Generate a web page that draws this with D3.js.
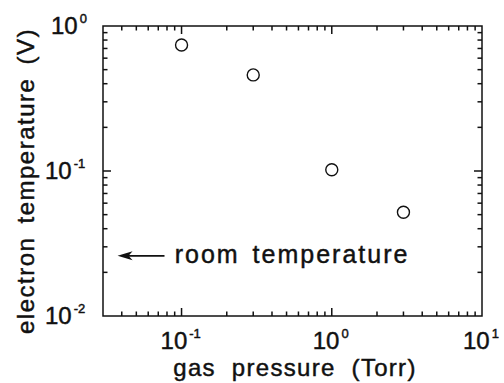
<!DOCTYPE html>
<html><head><meta charset="utf-8">
<script src="https://cdn.jsdelivr.net/npm/d3@7"></script>
<style>
body{margin:0;background:#fff;}
svg text{font-family:"Liberation Sans",Arial,Helvetica,sans-serif;fill:#111;stroke:#111;stroke-width:0.45px;}
</style></head>
<body><svg id="c" width="504" height="383"></svg>
<script>
// data
const pressure = [0.1, 0.3, 1.0, 3.0];          // Torr
const electronTemp = [0.74, 0.46, 0.102, 0.052]; // V
const xTickExps = [-1, 0, 1];
const yTickExps = [0, -1, -2];
const roomTemp = 0.026;
const arrowFrom = 0.077, arrowTo = 0.0375;
const labelX = 0.09;
const xTitle = "gas pressure (Torr)";
const yTitle = "electron temperature (V)";
const annotation = "room temperature";

const svg = d3.select("#c");
const L = 103, R = 482, T = 26, B = 316;
const x = d3.scaleLog().domain([0.03, 10]).range([L, R]);
const y = d3.scaleLog().domain([0.01, 1]).range([B, T]);

function minorTicks(dom){
  const out=[];
  for(let e=-3;e<=2;e++){for(let k=1;k<10;k++){const v=k*Math.pow(10,e);
    if(v>=dom[0]*0.999 && v<=dom[1]*1.001) out.push(v);}}
  return out;
}
const xAll = minorTicks(x.domain()), yAll = minorTicks(y.domain());
const isMajor = v => Math.abs(Math.log10(v)-Math.round(Math.log10(v)))<1e-6;

const g = svg.append("g").attr("stroke","#111").attr("stroke-width",1.5).attr("fill","none");
g.append("rect").attr("x",L).attr("y",T).attr("width",R-L).attr("height",B-T);

const maj=8, mn=4.5;
xAll.forEach(v=>{
  const len = isMajor(v)?maj:mn, px=x(v);
  if(px<=L+0.5||px>=R-0.5) return;
  g.append("line").attr("x1",px).attr("x2",px).attr("y1",B).attr("y2",B-len);
  g.append("line").attr("x1",px).attr("x2",px).attr("y1",T).attr("y2",T+len);
});
yAll.forEach(v=>{
  const len = isMajor(v)?maj:mn, py=y(v);
  if(py<=T+0.5||py>=B-0.5) return;
  g.append("line").attr("y1",py).attr("y2",py).attr("x1",L).attr("x2",L+len);
  g.append("line").attr("y1",py).attr("y2",py).attr("x1",R).attr("x2",R-len);
});

// tick labels
function powLabel(sel, exp){
  const t = sel.append("text").attr("text-anchor","start").style("font-size","24px");
  t.append("tspan").text("10");
  t.append("tspan").attr("dx",2).attr("dy",-11).style("font-size","13px").text(exp<0?"-"+(-exp):String(exp));
  return t;
}
xTickExps.forEach(e=>{
  powLabel(svg, e).attr("x", x(Math.pow(10,e))-(e<0?21:19)).attr("y",349);
});
yTickExps.forEach(e=>{
  powLabel(svg, e).attr("x", e<0?45:51).attr("y", y(Math.pow(10,e))+8);
});

// titles
svg.append("text").attr("x",295).attr("y",376).attr("text-anchor","middle")
  .style("font-size","24px").style("letter-spacing","1.3px").style("word-spacing","8px").text(xTitle);
svg.append("text").attr("transform",`translate(33.5,181) rotate(-90)`)
  .attr("text-anchor","middle").style("font-size","24px").style("letter-spacing","1.5px")
  .style("word-spacing","5px").text(yTitle);

// points
svg.append("g").selectAll("circle").data(pressure).join("circle")
  .attr("cx",(d)=>x(d)).attr("cy",(d,i)=>y(electronTemp[i])).attr("r",6)
  .attr("fill","none").attr("stroke","#111").attr("stroke-width",1.4);

// arrow
const ay = y(roomTemp);
const tx = x(arrowTo);
svg.append("line").attr("x1",x(arrowFrom)).attr("x2",tx+10).attr("y1",ay).attr("y2",ay)
  .attr("stroke","#111").attr("stroke-width",1.6);
svg.append("path").attr("d",`M${tx},${ay} L${tx+15},${ay-4.5} L${tx+11},${ay} L${tx+15},${ay+4.5} Z`).attr("fill","#111");
svg.append("text").attr("x",x(labelX)).attr("y",ay+7).style("font-size","25px")
  .style("letter-spacing","2px").style("word-spacing","4px").text(annotation);
</script></body></html>
